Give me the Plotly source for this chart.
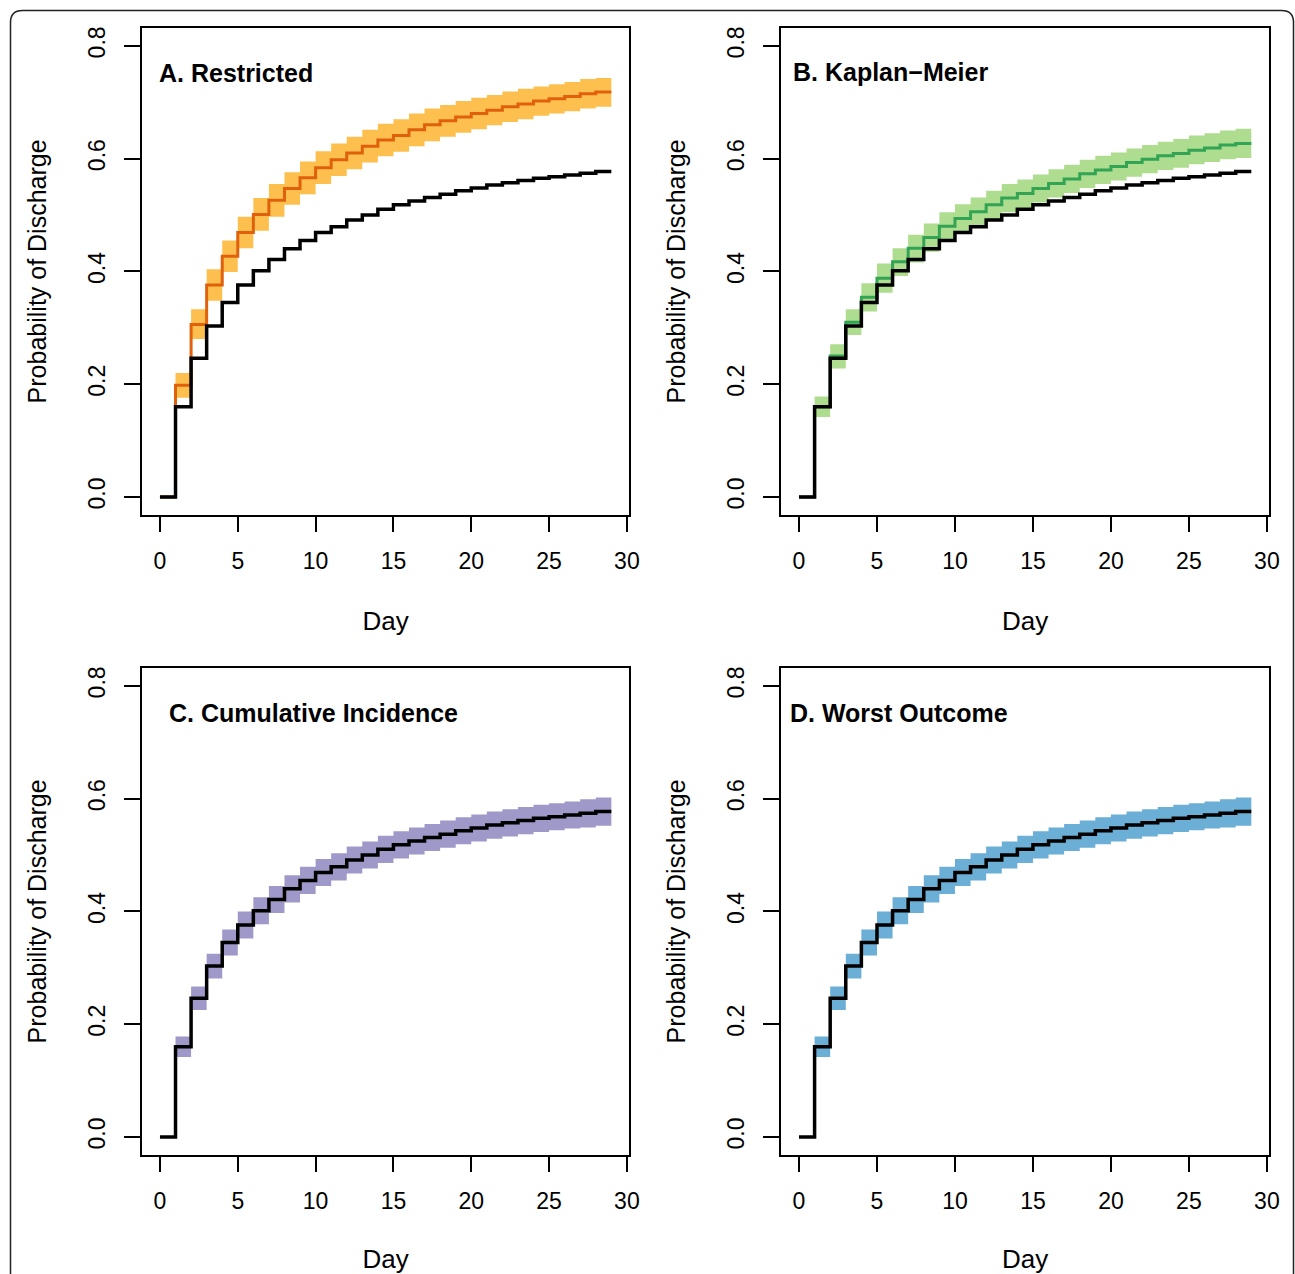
import plotly.graph_objects as go

W, H = 1295, 1274

# ---------------- data ----------------
days = list(range(0, 30))          # 0..29 (last value repeated to close final step)
band_days = list(range(1, 30))     # bands start at day 1

# observed (black) curve, days 0..28
observed = [0.000, 0.160, 0.246, 0.303, 0.345, 0.376, 0.401, 0.421, 0.440, 0.455,
            0.469, 0.479, 0.491, 0.500, 0.510, 0.518, 0.525, 0.531, 0.537, 0.543,
            0.548, 0.553, 0.557, 0.561, 0.565, 0.568, 0.571, 0.574, 0.577]

# A. Restricted (days 0..28)
restricted = [0.000, 0.198, 0.306, 0.376, 0.427, 0.469, 0.501, 0.526, 0.547, 0.566,
              0.584, 0.598, 0.610, 0.622, 0.633, 0.641, 0.651, 0.660, 0.667, 0.674,
              0.680, 0.686, 0.692, 0.697, 0.702, 0.706, 0.710, 0.715, 0.718]
restricted_upper = [0.220, 0.333, 0.404, 0.455, 0.497, 0.530, 0.555, 0.576, 0.595, 0.613,
                    0.627, 0.639, 0.651, 0.662, 0.670, 0.680, 0.689, 0.695, 0.702, 0.708,
                    0.713, 0.719, 0.724, 0.728, 0.732, 0.736, 0.741, 0.743]
restricted_lower = [0.176, 0.280, 0.348, 0.399, 0.441, 0.472, 0.497, 0.518, 0.537, 0.555,
                    0.569, 0.581, 0.593, 0.604, 0.612, 0.622, 0.631, 0.639, 0.646, 0.652,
                    0.659, 0.665, 0.670, 0.676, 0.680, 0.684, 0.689, 0.692]

# B. Kaplan-Meier (days 0..28)
kaplan_meier = [0.000, 0.160, 0.250, 0.310, 0.354, 0.388, 0.417, 0.441, 0.460, 0.480,
                0.494, 0.506, 0.518, 0.530, 0.538, 0.547, 0.556, 0.564, 0.573, 0.580,
                0.586, 0.593, 0.599, 0.605, 0.609, 0.615, 0.619, 0.624, 0.627]
km_upper = [0.178, 0.271, 0.333, 0.379, 0.414, 0.441, 0.465, 0.485, 0.505, 0.519,
            0.531, 0.543, 0.555, 0.563, 0.572, 0.581, 0.589, 0.598, 0.605, 0.611,
            0.618, 0.624, 0.630, 0.635, 0.641, 0.645, 0.650, 0.653]
km_lower = [0.142, 0.228, 0.287, 0.329, 0.362, 0.392, 0.416, 0.435, 0.455, 0.469,
            0.481, 0.493, 0.505, 0.513, 0.522, 0.531, 0.539, 0.548, 0.555, 0.561,
            0.568, 0.574, 0.580, 0.584, 0.590, 0.594, 0.599, 0.601]

# C. Cumulative Incidence band
ci_upper = [0.178, 0.267, 0.325, 0.368, 0.400, 0.425, 0.445, 0.464, 0.479, 0.493,
            0.503, 0.515, 0.524, 0.534, 0.542, 0.549, 0.555, 0.561, 0.567, 0.572,
            0.577, 0.581, 0.585, 0.589, 0.592, 0.595, 0.599, 0.602]
ci_lower = [0.142, 0.225, 0.281, 0.322, 0.352, 0.377, 0.397, 0.416, 0.431, 0.445,
            0.455, 0.467, 0.476, 0.486, 0.494, 0.501, 0.507, 0.513, 0.519, 0.524,
            0.529, 0.533, 0.537, 0.541, 0.544, 0.547, 0.549, 0.552]

# D. Worst Outcome band
wo_upper = [0.178, 0.267, 0.325, 0.368, 0.400, 0.425, 0.445, 0.464, 0.479, 0.493,
            0.503, 0.515, 0.524, 0.534, 0.542, 0.549, 0.555, 0.561, 0.567, 0.572,
            0.577, 0.581, 0.585, 0.589, 0.592, 0.595, 0.599, 0.602]
wo_lower = [0.142, 0.225, 0.281, 0.322, 0.352, 0.377, 0.397, 0.416, 0.431, 0.445,
            0.455, 0.467, 0.476, 0.486, 0.494, 0.501, 0.507, 0.513, 0.519, 0.524,
            0.529, 0.533, 0.537, 0.541, 0.544, 0.547, 0.549, 0.552]

panel_titles = ["A. Restricted", "B. Kaplan\u2212Meier", "C. Cumulative Incidence", "D. Worst Outcome"]
x_ticks = [0, 5, 10, 15, 20, 25, 30]
y_ticks = [0.0, 0.2, 0.4, 0.6, 0.8]
y_ticktext = ["0.0", "0.2", "0.4", "0.6", "0.8"]

# ---------------- styling ----------------
FONT = "Liberation Sans, Arial, Helvetica, sans-serif"
band_colors = ["#FDC04E", "#AEDD90", "#9E99C8", "#6BAED6"]
line_colors = ["#E0600B", "#33A354", None, None]


def close(v):
    return list(v) + [v[-1]]


def px_x(p):
    return p / W


def px_y(p):
    return 1 - p / H


# panel boxes in pixels: (left, right, top, bottom)
boxes = [
    (141.9, 629.4, 27.8, 515.0),
    (780.9, 1269.4, 27.8, 515.0),
    (141.9, 629.4, 667.8, 1155.0),
    (780.9, 1269.4, 667.8, 1155.0),
]
title_pos = [(0.0, 0.751), (-0.32, 0.753), (0.62, 0.751), (-0.5, 0.751)]

panels = [
    (restricted, restricted_upper, restricted_lower),
    (kaplan_meier, km_upper, km_lower),
    (None, ci_upper, ci_lower),
    (None, wo_upper, wo_lower),
]

fig = go.Figure()
layout = dict(
    width=W, height=H, autosize=False,
    margin=dict(l=0, r=0, t=0, b=0, pad=0),
    paper_bgcolor="white", plot_bgcolor="white",
    showlegend=False,
    font=dict(family=FONT, color="black"),
)

annotations = []
for i, (line_vals, up, lo) in enumerate(panels):
    n = i + 1
    xa = "x" if n == 1 else f"x{n}"
    ya = "y" if n == 1 else f"y{n}"
    # band
    fig.add_trace(go.Scatter(x=band_days, y=close(up), mode="lines",
                             line=dict(width=0, shape="hv", color=band_colors[i]),
                             hoverinfo="skip", xaxis=xa, yaxis=ya))
    fig.add_trace(go.Scatter(x=band_days, y=close(lo), mode="lines",
                             line=dict(width=0, shape="hv", color=band_colors[i]),
                             fill="tonexty", fillcolor=band_colors[i],
                             hoverinfo="skip", xaxis=xa, yaxis=ya))
    if line_vals is not None:
        fig.add_trace(go.Scatter(x=days, y=close(line_vals), mode="lines",
                                 line=dict(width=3, shape="hv", color=line_colors[i]),
                                 hoverinfo="skip", xaxis=xa, yaxis=ya))
    fig.add_trace(go.Scatter(x=days, y=close(observed), mode="lines",
                             line=dict(width=3.5, shape="hv", color="black"),
                             hoverinfo="skip", xaxis=xa, yaxis=ya))

    l, r, t, b = boxes[i]
    axkey_x = "xaxis" if n == 1 else f"xaxis{n}"
    axkey_y = "yaxis" if n == 1 else f"yaxis{n}"
    layout[axkey_x] = dict(
        domain=[px_x(l), px_x(r)], anchor=ya, range=[-1.16, 30.16], automargin=False,
        showgrid=False, zeroline=False, showline=True, mirror=True,
        linecolor="black", linewidth=1.6,
        ticks="outside", ticklen=15, tickwidth=1.6, tickcolor="black",
        tickvals=x_ticks, ticktext=[str(v) for v in x_ticks],
        tickfont=dict(size=23, family=FONT, color="black"),
        ticklabelstandoff=10,
        title=dict(text="Day", font=dict(size=26, family=FONT, color="black"), standoff=38),
    )
    layout[axkey_y] = dict(
        domain=[px_y(b), px_y(t)], anchor=xa, range=[-0.032, 0.832], automargin=False,
        showgrid=False, zeroline=False, showline=True, mirror=True,
        linecolor="black", linewidth=1.6,
        ticks="outside", ticklen=16, tickwidth=1.6, tickcolor="black",
        tickvals=y_ticks, ticktext=y_ticktext, tickangle=-90,
        tickfont=dict(size=23, family=FONT, color="black"),
        ticklabelstandoff=10,
        title=dict(text="Probability of Discharge", font=dict(size=25, family=FONT, color="black"),
                   standoff=30),
    )
    tx, ty = title_pos[i]
    annotations.append(dict(
        x=tx, y=ty, xref=xa, yref=ya, text=f"<b>{panel_titles[i]}</b>",
        showarrow=False, xanchor="left", yanchor="middle", xshift=-3,
        font=dict(size=25, family=FONT, color="black"),
    ))

layout["annotations"] = annotations

# outer rounded frame (extends past bottom edge)
L, R, T, B, rad = 10.5, 1293.5, 10.5, 1300, 12
path = (f"M {px_x(L)} {px_y(B)} L {px_x(L)} {px_y(T + rad)} "
        f"Q {px_x(L)} {px_y(T)} {px_x(L + rad)} {px_y(T)} "
        f"L {px_x(R - rad)} {px_y(T)} "
        f"Q {px_x(R)} {px_y(T)} {px_x(R)} {px_y(T + rad)} "
        f"L {px_x(R)} {px_y(B)}")
layout["shapes"] = [dict(type="path", xref="paper", yref="paper", path=path,
                         line=dict(color="#222222", width=1.5), layer="below")]

fig.update_layout(**layout)

post = (
    "document.documentElement.style.margin='0';"
    "document.documentElement.style.overflow='hidden';"
    "document.body.style.margin='0';"
    "document.body.style.padding='0';"
    "document.body.style.overflow='hidden';"
    "var gd=document.getElementById('{plot_id}');"
    "gd.style.width='%dpx';gd.style.height='%dpx';"
    "Plotly.relayout(gd,{autosize:false,width:%d,height:%d});" % (W, H, W, H)
)
fig.write_html(
    "out.html",
    config={"responsive": False, "displayModeBar": False},
    post_script=post,
)
